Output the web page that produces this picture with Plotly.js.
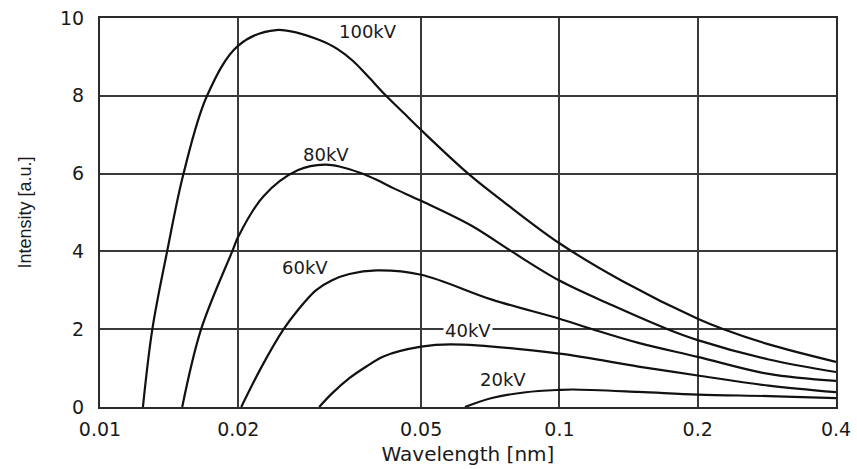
<!DOCTYPE html>
<html>
<head>
<meta charset="utf-8">
<script src="https://cdn.plot.ly/plotly-3.0.1.min.js"></script>
<style>
  html, body { margin: 0; padding: 0; background: #ffffff; }
  #chart { width: 857px; height: 469px; }
</style>
</head>
<body>
<div id="chart"></div>
<script>
// Series names (tube voltage)
const seriesNames = ["100kV", "80kV", "60kV", "40kV", "20kV"];

// Wavelength [nm] and intensity [a.u.]
const wl100 = [0.0124, 0.0130, 0.0140, 0.0152, 0.0171, 0.0200, 0.0242, 0.0304, 0.0329, 0.0355, 0.0383, 0.0418, 0.0459, 0.0500, 0.0633, 0.0761, 0.100, 0.137, 0.200, 0.2277, 0.2856, 0.400];
const i100  = [0, 2.0, 4.0, 6.0, 8.0, 9.29, 9.69, 9.41, 9.20, 8.90, 8.50, 8.02, 7.55, 7.12, 6.0, 5.25, 4.21, 3.24, 2.27, 2.0, 1.61, 1.16];

const wl80 = [0.0151, 0.0166, 0.0194, 0.0200, 0.0227, 0.0270, 0.0309, 0.0335, 0.0368, 0.0400, 0.0436, 0.0500, 0.0644, 0.0787, 0.100, 0.130, 0.172, 0.200, 0.2856, 0.400];
const i80  = [0, 2.0, 4.0, 4.38, 5.42, 6.09, 6.23, 6.17, 6.02, 5.84, 5.62, 5.30, 4.66, 4.0, 3.25, 2.62, 2.0, 1.72, 1.22, 0.90];

const wl60 = [0.0203, 0.0224, 0.0251, 0.0270, 0.0295, 0.0320, 0.0349, 0.0400, 0.0500, 0.0713, 0.100, 0.118, 0.1486, 0.200, 0.2856, 0.400];
const i60  = [0, 1.0, 2.0, 2.50, 3.00, 3.26, 3.42, 3.51, 3.40, 2.76, 2.27, 2.0, 1.65, 1.29, 0.85, 0.67];

const wl40 = [0.0300, 0.0320, 0.0349, 0.0380, 0.0414, 0.0500, 0.0582, 0.100, 0.1486, 0.200, 0.2856, 0.400];
const i40  = [0, 0.35, 0.74, 1.04, 1.30, 1.55, 1.61, 1.37, 1.04, 0.81, 0.55, 0.38];

const wl20 = [0.0623, 0.0713, 0.0845, 0.100, 0.107, 0.1486, 0.200, 0.2856, 0.400];
const i20  = [0, 0.23, 0.38, 0.44, 0.45, 0.39, 0.32, 0.28, 0.23];

// Tick labels
const xTickVals = [0.01, 0.02, 0.05, 0.1, 0.2, 0.4];
const xTickText = ["0.01", "0.02", "0.05", "0.1", "0.2", "0.4"];
const yTickVals = [0, 2, 4, 6, 8, 10];

const xs = [wl100, wl80, wl60, wl40, wl20];
const ys = [i100, i80, i60, i40, i20];

const traces = seriesNames.map((n, k) => ({
  type: "scatter",
  mode: "lines",
  name: n,
  x: xs[k],
  y: ys[k],
  line: { color: "#111111", width: 2.2, shape: "spline", smoothing: 1.0 },
  hoverinfo: "skip"
}));

// label placement (layout only)
const labelPos = [
  { x: 0.0383, y: 9.65, bg: null },
  { x: 0.0310, y: 6.50, bg: null },
  { x: 0.0279, y: 3.58, bg: null },
  { x: 0.0633, y: 1.97, bg: "#ffffff" },
  { x: 0.0753, y: 0.70, bg: null }
];

const annotations = seriesNames.map((n, k) => {
  const a = {
    xref: "x", yref: "y",
    x: Math.log10(labelPos[k].x), y: labelPos[k].y,
    text: n, showarrow: false,
    font: { family: "DejaVu Sans, Arial, sans-serif", size: 18, color: "#1a1a1a" },
    xanchor: "center", yanchor: "middle"
  };
  if (labelPos[k].bg) { a.bgcolor = labelPos[k].bg; a.borderpad = 1; }
  return a;
});

const layout = {
  width: 857, height: 469,
  margin: { l: 100, r: 21, t: 18, b: 62, pad: 0 },
  paper_bgcolor: "#ffffff",
  plot_bgcolor: "#ffffff",
  showlegend: false,
  font: { family: "DejaVu Sans, Arial, sans-serif", color: "#1a1a1a" },
  xaxis: {
    type: "log",
    range: [-2, Math.log10(0.4)],
    tickmode: "array",
    tickvals: xTickVals,
    ticktext: xTickText,
    ticks: "",
    ticklabelstandoff: 4,
    tickfont: { family: "DejaVu Sans, Arial, sans-serif", size: 19, color: "#1a1a1a" },
    showgrid: true, gridcolor: "#3a3a3a", gridwidth: 2,
    showline: true, linecolor: "#2a2a2a", linewidth: 2, mirror: true,
    zeroline: false,
    title: { text: "Wavelength [nm]", standoff: 8,
             font: { family: "DejaVu Sans, Arial, sans-serif", size: 20, color: "#1a1a1a" } }
  },
  yaxis: {
    range: [0, 10],
    tickmode: "array",
    tickvals: yTickVals,
    ticks: "",
    ticklabelstandoff: 10,
    tickfont: { family: "DejaVu Sans, Arial, sans-serif", size: 19, color: "#1a1a1a" },
    showgrid: true, gridcolor: "#3a3a3a", gridwidth: 2,
    showline: true, linecolor: "#2a2a2a", linewidth: 2, mirror: true,
    zeroline: false,
    title: { text: "Intensity [a.u.]", standoff: 24,
             font: { family: "Liberation Sans, Arial, sans-serif", size: 18, color: "#1a1a1a" } }
  },
  annotations: annotations
};

Plotly.newPlot("chart", traces, layout, { staticPlot: true, displayModeBar: false });
</script>
</body>
</html>
